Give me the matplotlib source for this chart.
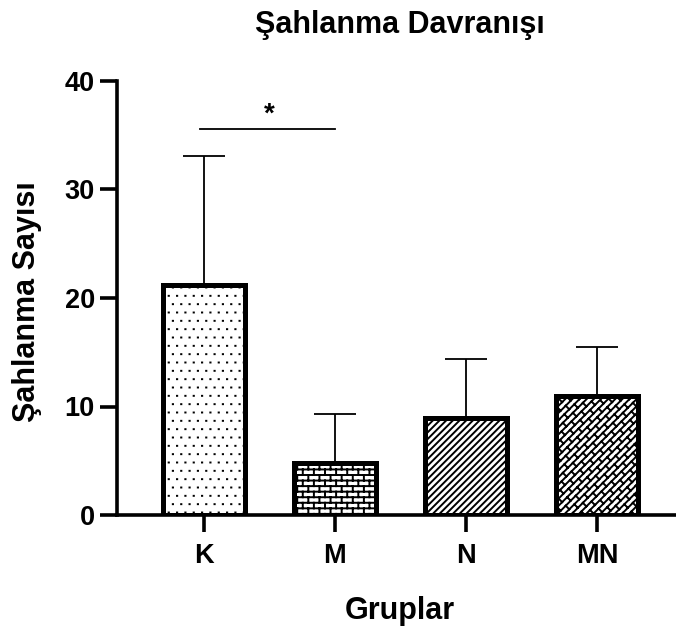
import numpy as np
import matplotlib
matplotlib.use('Agg')
import matplotlib.pyplot as plt
import matplotlib.hatch as mhatch
from matplotlib.path import Path

groups = ['K', 'M', 'N', 'MN']
means = [21.2, 4.8, 8.9, 11.0]
sems = [11.9, 4.5, 5.5, 4.5]
hatches = ['dd', 'bbb', '/////', 'ww']
sig_pair = (0, 1)
sig_height = 35.6


def _segs_to_path(segs, vertices, codes):
    vertices[:] = np.array(segs).reshape(-1, 2)
    codes[0::2] = Path.MOVETO
    codes[1::2] = Path.LINETO


class DotHatch(mhatch.HatchPatternBase):
    # small staggered dots, 'd'
    def __init__(self, hatch, density):
        self.n = hatch.count('d') * density
        self.num_vertices = 2 * (self.n + 1) * (self.n + 1) if self.n else 0

    def set_vertices_and_codes(self, vertices, codes):
        n = self.n
        segs = []
        for i in range(n + 1):
            y = (i + 0.5) / n
            off = 0.5 * (i % 2)
            for j in range(n + 1):
                x = (j + 0.25 + off) / n
                segs.append(((x - 0.001, y), (x + 0.001, y)))
        _segs_to_path(segs, vertices, codes)


class BrickHatch(mhatch.HatchPatternBase):
    # horizontal bricks, 'b'
    def __init__(self, hatch, density):
        self.rows = hatch.count('b') * density
        self.cols = max(self.rows // 2, 1)
        if self.rows:
            self.num_vertices = 2 * (self.rows + (self.rows + 1) * (self.cols + 1))
        else:
            self.num_vertices = 0

    def set_vertices_and_codes(self, vertices, codes):
        n, m = self.rows, self.cols
        step = 1.0 / n
        segs = []
        for i in range(n):
            y = (i + 0.5) * step
            segs.append(((-0.1, y), (1.1, y)))
        for i in range(-1, n):
            y0 = (i + 0.5) * step
            off = 0.5 * (i % 2)
            for j in range(m + 1):
                x = (j + 0.25 + off) / m
                segs.append(((x, y0), (x, y0 + step)))
        _segs_to_path(segs, vertices, codes)


class DiagBrickHatch(mhatch.HatchPatternBase):
    # bricks running along '/', 'w'
    def __init__(self, hatch, density):
        self.n = hatch.count('w') * 7
        self.m = 5
        if self.n:
            self.num_vertices = 2 * ((2 * self.n + 1) + 2 * self.n * (2 * self.m + 1))
        else:
            self.num_vertices = 0

    def set_vertices_and_codes(self, vertices, codes):
        n, m = self.n, self.m

        def xy(s, d):
            return ((s + d) / 2.0, (s - d) / 2.0)
        segs = []
        for k in range(-n, n + 1):
            segs.append((xy(-0.2, k / n), xy(2.2, k / n)))
        for k in range(-n, n):
            off = 0.5 * (k % 2)
            for j in range(2 * m + 1):
                s = (j + off) / m
                segs.append((xy(s, k / n), xy(s, (k + 1) / n)))
        _segs_to_path(segs, vertices, codes)


mhatch._hatch_types.extend([DotHatch, BrickHatch, DiagBrickHatch])

plt.rcParams['font.family'] = ['Liberation Sans', 'DejaVu Sans']
plt.rcParams['font.weight'] = 'bold'
plt.rcParams['hatch.linewidth'] = 1.4
plt.rcParams['hatch.color'] = 'black'

fig = plt.figure(figsize=(6.76, 6.29), dpi=100)
ax = fig.add_axes([117 / 676, 1 - 515 / 629, 559 / 676, 434 / 629])

x = np.arange(len(groups))
ax.errorbar(x, means, yerr=[[0] * len(sems), sems], fmt='none', ecolor='black',
            elinewidth=1.3, capsize=15, capthick=1.3, zorder=1)
bars = ax.bar(x, means, width=0.62, color='white', edgecolor='black',
              linewidth=3.6, zorder=2)
for b, h in zip(bars, hatches):
    b.set_hatch(h)

# significance bar
ax.plot([x[sig_pair[0]] - 0.03, x[sig_pair[1]]], [sig_height, sig_height],
        color='black', lw=1.3, clip_on=False)
ax.text((x[sig_pair[0]] + x[sig_pair[1]]) / 2, sig_height + 0.1, '*',
        ha='center', va='bottom', fontsize=20, fontweight='bold')

ax.set_xlim(-0.664, 3.603)
ax.set_ylim(0, 40)
ax.set_yticks([0, 10, 20, 30, 40])
ax.set_xticks(x)
ax.set_xticklabels(groups)

for s in ['top', 'right']:
    ax.spines[s].set_visible(False)
for s in ['left', 'bottom']:
    ax.spines[s].set_linewidth(2.6)
ax.tick_params(axis='both', width=2.6, length=12, labelsize=19.5)
ax.tick_params(axis='x', pad=8)
ax.tick_params(axis='y', pad=4)

fig.text(400 / 676, 1 - 619 / 629, 'Gruplar', ha='center', va='baseline',
         fontsize=22, fontweight='bold')
fig.text(27 / 676, 1 - 302 / 629, 'Şahlanma Sayısı', ha='center', va='center',
         rotation=90, fontsize=22, fontweight='bold')
fig.text(400 / 676, 1 - 33 / 629, 'Şahlanma Davranışı', ha='center', va='baseline',
         fontsize=22, fontweight='bold')

fig.savefig('out.png', dpi=100)
